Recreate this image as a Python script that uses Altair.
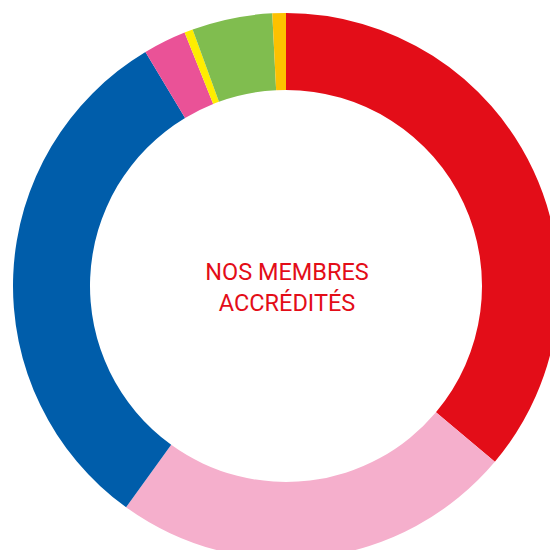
import altair as alt
import pandas as pd

categories = ["A", "B", "C", "D", "E", "F", "G"]
values = [36.1, 23.8, 31.4, 2.55, 0.5, 4.75, 0.8]
colors = ["#E30D18", "#F5AFCC", "#005DAA", "#EA5297", "#FFED00", "#80BD4F", "#FDC100"]
center_lines = ["NOS MEMBRES", "ACCRÉDITÉS"]

df = pd.DataFrame({"cat": categories, "value": values, "order": list(range(len(categories)))})

arcs = alt.Chart(df).mark_arc(innerRadius=196, outerRadius=273, stroke=None).encode(
    theta=alt.Theta("value:Q", stack=True),
    order=alt.Order("order:Q"),
    color=alt.Color("cat:N", scale=alt.Scale(domain=categories, range=colors), legend=None),
    x=alt.value(278),
    y=alt.value(278),
)

tdf = pd.DataFrame({"t": ["\n".join(center_lines)]})
text = alt.Chart(tdf).mark_text(
    font="Roboto", fontSize=23.5, color="#E30D18", lineBreak="\n", lineHeight=31,
    align="center", baseline="middle"
).encode(text="t:N", x=alt.value(279), y=alt.value(265))

chart = alt.layer(arcs, text).properties(
    width=542, height=542, autosize=alt.AutoSizeParams(type="none"), padding=0, background="white"
).configure_view(stroke=None)

chart.save("out.html", embed_options={"renderer": "svg", "actions": False})
